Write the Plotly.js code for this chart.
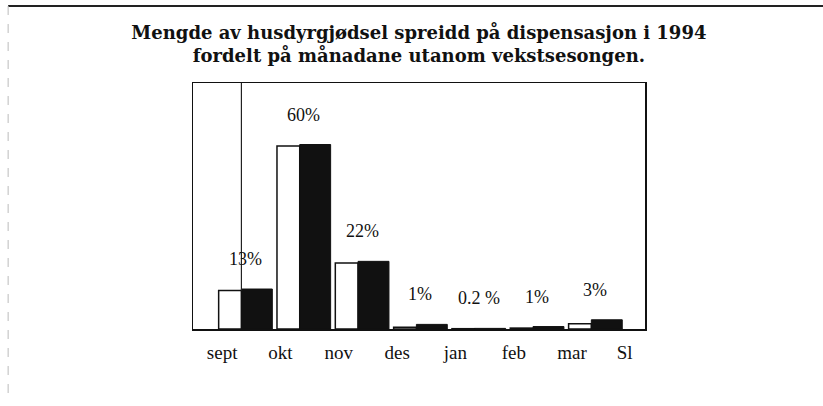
<!DOCTYPE html>
<html>
<head>
<meta charset="utf-8">
<script src="https://cdn.plot.ly/plotly-3.0.1.min.js"></script>
<style>html,body{margin:0;padding:0;background:#fff;}#chart{width:823px;height:406px;}</style>
</head>
<body>
<div id="chart"></div>
<script>
// Data
const months = ["sept", "okt", "nov", "des", "jan", "feb", "mar"];
const tickLabels = ["sept", "okt", "nov", "des", "jan", "feb", "mar", "Sl"];
const whiteValues = [12.5, 59.5, 21.5, 0.6, 0.1, 0.3, 1.7];
const blackValues = [13, 60, 22, 1.5, 0.2, 0.8, 3];
const pctLabels = ["13%", "60%", "22%", "1%", "0.2 %", "1%", "3%"];

const xPos = months.map((m, i) => i);
const tickPos = tickLabels.map((t, i) => i < months.length ? i - 0.4 : i - 0.5);

const serif = "Liberation Serif, Times New Roman, serif";

const traces = [
  {
    type: "bar", x: xPos, y: whiteValues, name: "white",
    width: 0.39, offset: -0.46,
    marker: {color: "#ffffff", line: {color: "#111", width: 1.5}},
    hoverinfo: "skip", showlegend: false
  },
  {
    type: "bar", x: xPos, y: blackValues, name: "black",
    width: 0.53, offset: -0.07,
    marker: {color: "#111111", line: {color: "#111", width: 1}},
    hoverinfo: "skip", showlegend: false
  }
];

const annotations = pctLabels.map((t, i) => ({
  x: xPos[i], y: blackValues[i], xref: "x", yref: "y",
  text: t, showarrow: false, yshift: 30,
  font: {family: serif, size: 18, color: "#111"}
}));

const layout = {
  width: 823, height: 406,
  margin: {l: 193, r: 178, t: 83, b: 77},
  paper_bgcolor: "#fff", plot_bgcolor: "#fff",
  title: {
    text: "Mengde av husdyrgjødsel spreidd på dispensasjon i 1994<br>fordelt på månadane utanom vekstsesongen.",
    x: 0.509, xanchor: "center", y: 0.905, yanchor: "top", yref: "container",
    font: {family: "DejaVu Serif, serif", size: 18, color: "#111", weight: "bold"}
  },
  xaxis: {
    range: [-0.9, 6.85], tickvals: tickPos, ticktext: tickLabels,
    showgrid: false, zeroline: false, ticks: "", ticklabelstandoff: 6,
    showline: true, mirror: true, linecolor: "#111", linewidth: 1.5,
    tickfont: {family: serif, size: 19, color: "#111"}
  },
  yaxis: {
    range: [0, 80], showgrid: false, zeroline: false, showticklabels: false, ticks: "",
    showline: true, mirror: true, linecolor: "#111", linewidth: 1.5
  },
  annotations: annotations,
  shapes: [
    {type: "line", xref: "paper", yref: "paper", x0: -0.409, x1: 1.394, y0: 1.313, y1: 1.313,
     line: {color: "#222", width: 2}},
    {type: "line", xref: "paper", yref: "paper", x0: -0.409, x1: -0.409, y0: 1.313, y1: -0.268,
     line: {color: "#bbb", width: 1, dash: "dash"}},
    {type: "line", xref: "x", yref: "y", x0: 0 - 0.07, x1: 0 - 0.07, y0: whiteValues[0], y1: 80,
     line: {color: "#222", width: 1.2}}
  ]
};

Plotly.newPlot("chart", traces, layout, {staticPlot: true, displayModeBar: false});
</script>
</body>
</html>
